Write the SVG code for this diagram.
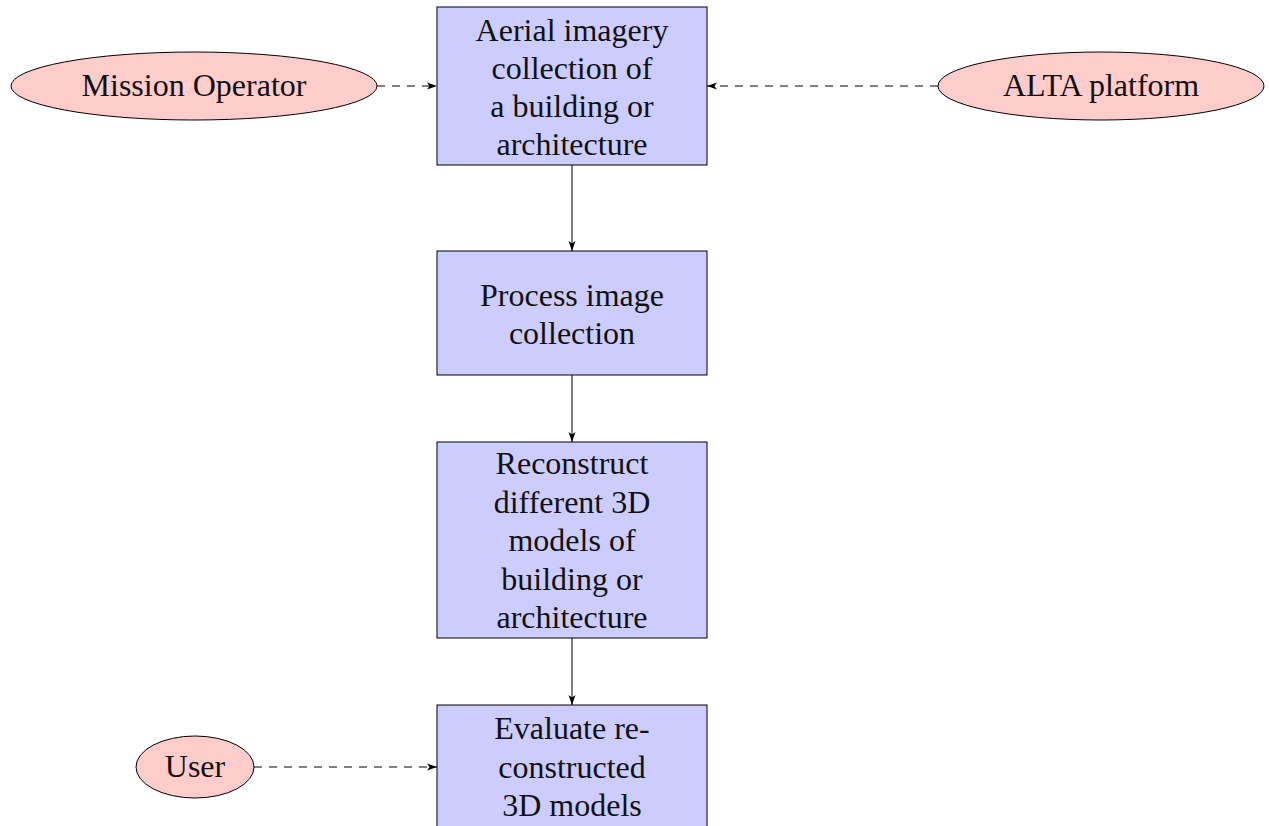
<svg xmlns="http://www.w3.org/2000/svg" width="1269" height="826" viewBox="0 0 1269 826">
<defs>
<style>
.box{fill:#ccccff;stroke:#000;stroke-width:1}
.ell{fill:#ffcccc;stroke:#000;stroke-width:1}
text{font-family:"Liberation Serif","DejaVu Serif",serif;font-size:32px;fill:#111;text-anchor:middle}
.c{stroke:#000;stroke-width:1;fill:none}
.d{stroke-dasharray:8,7}
</style>
<marker id="ah" viewBox="0 0 10 10" refX="10" refY="5" markerWidth="10" markerHeight="10" markerUnits="userSpaceOnUse" orient="auto">
<path d="M0,1.5 L10,5 L0,8.5 L2.5,5 Z" fill="#000"/>
</marker>
</defs>
<rect width="1269" height="826" fill="#fff"/>
<g id="connectors">
<line class="c d" x1="377" y1="86" x2="437" y2="86" marker-end="url(#ah)"/>
<line class="c d" x1="938" y1="86" x2="707" y2="86" marker-end="url(#ah)"/>
<line class="c d" x1="254" y1="767" x2="437" y2="767" marker-end="url(#ah)"/>
<line class="c" x1="572" y1="165" x2="572" y2="251" marker-end="url(#ah)"/>
<line class="c" x1="572" y1="375" x2="572" y2="442" marker-end="url(#ah)"/>
<line class="c" x1="572" y1="638" x2="572" y2="705" marker-end="url(#ah)"/>
</g>
<g id="n1">
<rect class="box" x="437" y="7" width="270" height="158"/>
<text x="572" y="41">Aerial imagery</text>
<text x="572" y="79">collection of</text>
<text x="572" y="117">a building or</text>
<text x="572" y="155">architecture</text>
</g>
<g id="n2">
<rect class="box" x="437" y="251" width="270" height="124"/>
<text x="572" y="306">Process image</text>
<text x="572" y="344">collection</text>
</g>
<g id="n3">
<rect class="box" x="437" y="442" width="270" height="196"/>
<text x="572" y="474">Reconstruct</text>
<text x="572" y="513">different 3D</text>
<text x="572" y="551">models of</text>
<text x="572" y="590">building or</text>
<text x="572" y="628">architecture</text>
</g>
<g id="n4">
<rect class="box" x="437" y="705" width="270" height="130"/>
<text x="572" y="739">Evaluate re-</text>
<text x="572" y="778">constructed</text>
<text x="572" y="816">3D models</text>
</g>
<g id="mission">
<ellipse class="ell" cx="194" cy="86" rx="183" ry="34"/>
<text x="194" y="96">Mission Operator</text>
</g>
<g id="alta">
<ellipse class="ell" cx="1101" cy="86" rx="163" ry="34"/>
<text x="1101" y="96">ALTA platform</text>
</g>
<g id="user">
<ellipse class="ell" cx="195" cy="767" rx="59" ry="31"/>
<text x="195" y="777">User</text>
</g>
</svg>
